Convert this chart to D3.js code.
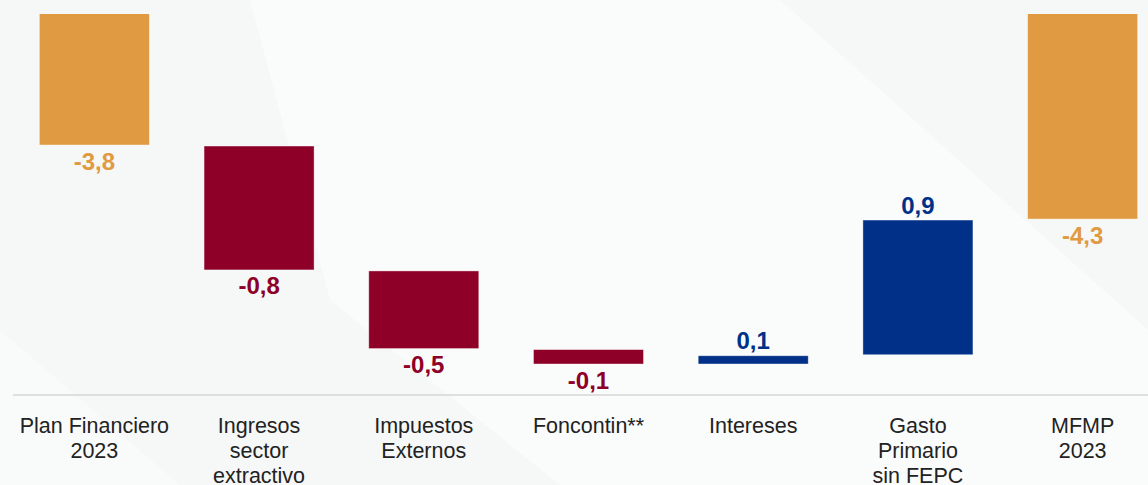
<!DOCTYPE html>
<html>
<head>
<meta charset="utf-8">
<script src="https://cdn.jsdelivr.net/npm/d3@7"></script>
<style>
  html, body { margin: 0; padding: 0; background: #f7f8f8; }
  svg { display: block; }
</style>
</head>
<body>
<div id="chart"></div>
<script>
// ---- data ----
const categories = [
  ["Plan Financiero", "2023"],
  ["Ingresos", "sector", "extractivo"],
  ["Impuestos", "Externos"],
  ["Foncontin**"],
  ["Intereses"],
  ["Gasto", "Primario", "sin FEPC"],
  ["MFMP", "2023"]
];
const values = [-3.80, -0.81, -0.51, -0.10, 0.06, 0.88, -4.28];
const kinds = ["total", "delta", "delta", "delta", "delta", "delta", "total"];
const valueLabels = ["-3,8", "-0,8", "-0,5", "-0,1", "0,1", "0,9", "-4,3"];

// ---- layout ----
const W = 1148, H = 485;
const colors = { total: "#E09A42", neg: "#8E0028", pos: "#003087" };

const svg = d3.select("#chart").append("svg")
  .attr("width", W).attr("height", H);

// subtle background shapes
svg.append("rect").attr("width", W).attr("height", H).attr("fill", "#f6f7f7");
svg.append("polygon")
  .attr("points", "250,0 780,0 1148,330 1148,485 560,485 330,300")
  .attr("fill", "#fafbfb");
svg.append("polygon")
  .attr("points", "0,330 180,485 0,485")
  .attr("fill", "#f9fafa");

// build waterfall segments
let cum = 0;
const rows = values.map((v, i) => {
  let start, end;
  if (kinds[i] === "total") { start = 0; end = v; cum = v; }
  else { start = cum; end = cum + v; cum = end; }
  return { i, v, start, end, kind: kinds[i], label: valueLabels[i], cat: categories[i] };
});

const x = d3.scaleBand()
  .domain(d3.range(categories.length))
  .range([12, 1165])
  .paddingInner(0.332)
  .paddingOuter(0.166);

const y = d3.scaleLinear()
  .domain([0, -5.22])
  .range([-440.5, 364.5]);

const axisY = 395;

// clip plot area (chart is cropped at the top)
svg.append("defs").append("clipPath").attr("id", "clip")
  .append("rect").attr("x", 0).attr("y", 14).attr("width", W).attr("height", H);

const colorOf = d => d.kind === "total" ? colors.total : (d.v < 0 ? colors.neg : colors.pos);

// axis line
svg.append("line")
  .attr("x1", 13).attr("x2", W)
  .attr("y1", axisY).attr("y2", axisY)
  .attr("stroke", "#d6d6d6").attr("stroke-width", 1.5);

// bars
svg.append("g").attr("clip-path", "url(#clip)")
  .selectAll("rect").data(rows).join("rect")
  .attr("x", d => x(d.i))
  .attr("width", x.bandwidth())
  .attr("y", d => Math.min(y(d.start), y(d.end)) + 0.5)
  .attr("height", d => Math.abs(y(d.end) - y(d.start)) - 1)
  .attr("fill", colorOf)
  .attr("stroke", "#ffffff").attr("stroke-opacity", 0.5).attr("stroke-width", 0.8);

// value labels
svg.append("g").selectAll("text").data(rows).join("text")
  .attr("x", d => x(d.i) + x.bandwidth() / 2)
  .attr("y", d => {
    if (d.kind === "total" || d.v < 0) return Math.max(y(d.start), y(d.end)) + 24;
    return Math.min(y(d.start), y(d.end)) - 6;
  })
  .attr("text-anchor", "middle")
  .attr("font-family", "Liberation Sans, Arial, sans-serif")
  .attr("font-weight", "bold")
  .attr("font-size", 24)
  .attr("fill", colorOf)
  .text(d => d.label);

// category labels
const cat = svg.append("g").selectAll("text").data(rows).join("text")
  .attr("x", d => x(d.i) + x.bandwidth() / 2)
  .attr("y", axisY + 38)
  .attr("text-anchor", "middle")
  .attr("font-family", "Liberation Sans, Arial, sans-serif")
  .attr("font-size", 21.5)
  .attr("fill", "#222222");
cat.selectAll("tspan").data(d => d.cat.map(t => ({ t, cx: x(d.i) + x.bandwidth() / 2 })))
  .join("tspan")
  .attr("x", d => d.cx)
  .attr("dy", (d, j) => j === 0 ? 0 : 25)
  .text(d => d.t);
</script>
</body>
</html>
